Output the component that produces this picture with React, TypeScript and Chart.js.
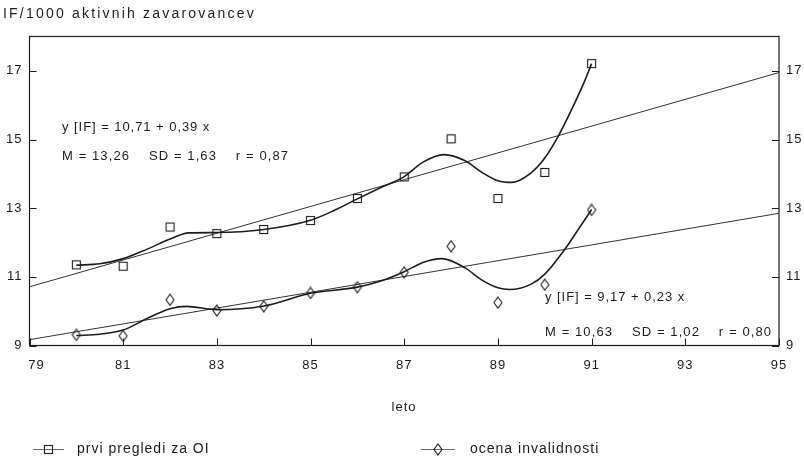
import React, { useEffect, useRef } from "react";
import { Chart, registerables } from "chart.js";

Chart.register(...registerables);

// ---------- data ----------
const years = [80, 81, 82, 83, 84, 85, 86, 87, 88, 89, 90, 91];
const firstExams = [11.35, 11.31, 12.45, 12.26, 12.38, 12.64, 13.28, 13.91, 15.02, 13.28, 14.04, 17.21];
const disability = [9.31, 9.28, 10.33, 10.02, 10.14, 10.53, 10.7, 11.13, 11.89, 10.25, 10.77, 12.95];

// smoothed curves
const curveAX = [80, 80.5, 81, 81.5, 82, 82.4, 83, 84, 85, 85.5, 86, 86.5, 87, 87.4, 87.85, 88.3, 88.65, 89, 89.3, 89.7, 90, 90.3, 90.6, 90.85, 91];
const curveAY = [11.34, 11.38, 11.53, 11.8, 12.1, 12.28, 12.29, 12.38, 12.65, 12.93, 13.27, 13.6, 13.92, 14.34, 14.56, 14.38, 14.05, 13.8, 13.75, 14.02, 14.46, 15.13, 15.95, 16.7, 17.21];
const curveBX = [80, 80.5, 81, 81.5, 82, 82.35, 83, 84, 85, 86, 86.5, 87, 87.4, 87.8, 88.3, 88.65, 89, 89.25, 89.7, 90, 90.4, 90.7, 91];
const curveBY = [9.29, 9.33, 9.45, 9.78, 10.07, 10.14, 10.04, 10.15, 10.52, 10.7, 10.88, 11.15, 11.42, 11.53, 11.26, 10.91, 10.68, 10.63, 10.78, 11.08, 11.75, 12.35, 12.96];

// regression lines (end points)
const fitYears = [79, 95];
const fitA = [10.71, 16.95];
const fitB = [9.17, 12.85];

const xTicks = [79, 81, 83, 85, 87, 89, 91, 93, 95];
const yTicks = [9, 11, 13, 15, 17];

const titleText = "IF/1000 aktivnih zavarovancev";
const xTitle = "leto";
const seriesNames = ["prvi pregledi za OI", "ocena invalidnosti"];
const eqA = ["y [IF] = 10,71 + 0,39 x", "M = 13,26    SD = 1,63    r = 0,87"];
const eqB = ["y [IF] = 9,17 + 0,23 x", "M = 10,63    SD = 1,02    r = 0,80"];

// ---------- styling ----------
const FONT = '"Liberation Sans", Arial, Helvetica, sans-serif';
const INK = "#1c1c1c";

function makeSquare(): HTMLCanvasElement {
  const c = document.createElement("canvas");
  c.width = 11;
  c.height = 11;
  const g = c.getContext("2d")!;
  g.strokeStyle = INK;
  g.lineWidth = 1.1;
  g.strokeRect(1.5, 1.5, 8, 8);
  return c;
}

function makeDiamond(): HTMLCanvasElement {
  const c = document.createElement("canvas");
  c.width = 10;
  c.height = 13;
  const g = c.getContext("2d")!;
  g.strokeStyle = INK;
  g.lineWidth = 1.1;
  g.beginPath();
  g.moveTo(5, 1);
  g.lineTo(9, 6.5);
  g.lineTo(5, 12);
  g.lineTo(1, 6.5);
  g.closePath();
  g.stroke();
  return c;
}

const pts = (xs: number[], ys: number[]) => xs.map((x, i) => ({ x, y: ys[i] }));

export default function App() {
  const ref = useRef<HTMLCanvasElement | null>(null);

  useEffect(() => {
    document.body.style.margin = "0";
    const square = makeSquare();
    const diamond = makeDiamond();

    const decor = {
      id: "decor",
      beforeLayout(chart: any) {
        chart.ctx.letterSpacing = "1px";
      },
      beforeDraw(chart: any) {
        chart.ctx.letterSpacing = "1px";
      },
      afterDraw(chart: any) {
        const { ctx, chartArea: a, scales } = chart;
        ctx.save();
        ctx.strokeStyle = INK;
        ctx.lineWidth = 1.2;
        ctx.strokeRect(a.left, a.top, a.right - a.left, a.bottom - a.top);
        ctx.lineWidth = 1;
        ctx.beginPath();
        for (const v of xTicks) {
          const px = Math.round(scales.x.getPixelForValue(v)) + 0.5;
          ctx.moveTo(px, a.bottom);
          ctx.lineTo(px, a.bottom - 7);
        }
        for (const v of yTicks) {
          const py = Math.round(scales.y.getPixelForValue(v)) + 0.5;
          ctx.moveTo(a.left, py);
          ctx.lineTo(a.left + 7, py);
          ctx.moveTo(a.right, py);
          ctx.lineTo(a.right - 7, py);
        }
        ctx.stroke();

        ctx.fillStyle = INK;
        ctx.textBaseline = "middle";
        ctx.textAlign = "left";
        ctx.font = `14px ${FONT}`;
        ctx.letterSpacing = "2.2px";
        ctx.fillText(titleText, 3, 14);

        ctx.font = `13px ${FONT}`;
        ctx.letterSpacing = "0.95px";
        ctx.fillText(eqA[0], 62, 127);
        ctx.fillText(eqB[0], 545, 297);
        ctx.letterSpacing = "1.1px";
        ctx.fillText(eqA[1], 62, 156);
        ctx.fillText(eqB[1], 545, 332);

        ctx.letterSpacing = "1px";
        ctx.textAlign = "center";
        ctx.fillText(xTitle, 404, 407);

        // legend
        const ly = 449;
        ctx.font = `14px ${FONT}`;
        ctx.textAlign = "left";
        ctx.strokeStyle = "#444";
        ctx.lineWidth = 0.8;
        ctx.beginPath();
        ctx.moveTo(33, ly + 0.5);
        ctx.lineTo(64, ly + 0.5);
        ctx.moveTo(421, ly + 0.5);
        ctx.lineTo(455, ly + 0.5);
        ctx.stroke();
        ctx.drawImage(square, 48 - Math.floor(square.width / 2), ly - Math.floor(square.height / 2));
        ctx.drawImage(diamond, 438 - diamond.width / 2, ly - Math.floor(diamond.height / 2));
        ctx.fillText(seriesNames[0], 77, ly);
        ctx.fillText(seriesNames[1], 470, ly);
        ctx.restore();
      },
    };

    const tickFont = { family: FONT, size: 13 };
    const setTicks = (list: number[]) => (s: any) => {
      s.ticks = list.map((v) => ({ value: v }));
    };
    const noGrid = { display: false, drawTicks: false };

    const chart = new Chart(ref.current!, {
      type: "scatter",
      data: {
        datasets: [
          {
            label: seriesNames[0],
            data: pts(years, firstExams),
            pointStyle: square as any,
            pointRadius: 4,
            showLine: false,
            order: 0,
          },
          {
            label: seriesNames[1],
            data: pts(years, disability),
            pointStyle: diamond as any,
            pointRadius: 4,
            showLine: false,
            order: 0,
          },
          {
            label: "curveA",
            data: pts(curveAX, curveAY),
            showLine: true,
            pointRadius: 0,
            borderColor: INK,
            borderWidth: 1.6,
            cubicInterpolationMode: "monotone",
            order: 1,
          },
          {
            label: "curveB",
            data: pts(curveBX, curveBY),
            showLine: true,
            pointRadius: 0,
            borderColor: INK,
            borderWidth: 1.6,
            cubicInterpolationMode: "monotone",
            order: 1,
          },
          {
            label: "fitA",
            data: pts(fitYears, fitA),
            showLine: true,
            pointRadius: 0,
            borderColor: "#333",
            borderWidth: 1,
            order: 2,
          },
          {
            label: "fitB",
            data: pts(fitYears, fitB),
            showLine: true,
            pointRadius: 0,
            borderColor: "#333",
            borderWidth: 1,
            order: 2,
          },
        ],
      },
      options: {
        animation: false,
        responsive: true,
        maintainAspectRatio: false,
        layout: { padding: { top: 36.5, left: 0, right: 0, bottom: 0 } },
        plugins: {
          legend: { display: false },
          tooltip: { enabled: false },
          title: { display: false },
        },
        scales: {
          x: {
            type: "linear",
            min: 79,
            max: 95,
            afterBuildTicks: setTicks(xTicks),
            afterFit: (s: any) => {
              s.height = 124.5;
            },
            grid: noGrid,
            border: { display: false },
            ticks: {
              autoSkip: false,
              maxRotation: 0,
              padding: 12,
              color: INK,
              font: tickFont,
              callback: (v: any) => (v === 79 ? "   79" : String(v)),
            },
          },
          y: {
            type: "linear",
            position: "left",
            min: 9,
            max: 18,
            afterBuildTicks: setTicks(yTicks),
            afterFit: (s: any) => {
              s.width = 29.5;
            },
            grid: noGrid,
            border: { display: false },
            ticks: { autoSkip: false, padding: 7, color: INK, font: tickFont },
          },
          y2: {
            type: "linear",
            position: "right",
            min: 9,
            max: 18,
            afterBuildTicks: setTicks(yTicks),
            afterFit: (s: any) => {
              s.width = 25;
            },
            grid: noGrid,
            border: { display: false },
            ticks: { autoSkip: false, padding: 7, color: INK, font: tickFont },
          },
        },
      },
      plugins: [decor],
    } as any);

    return () => chart.destroy();
  }, []);

  return (
    <div style={{ position: "absolute", left: 0, top: 0, width: 804, height: 470 }}>
      <canvas ref={ref} />
    </div>
  );
}
